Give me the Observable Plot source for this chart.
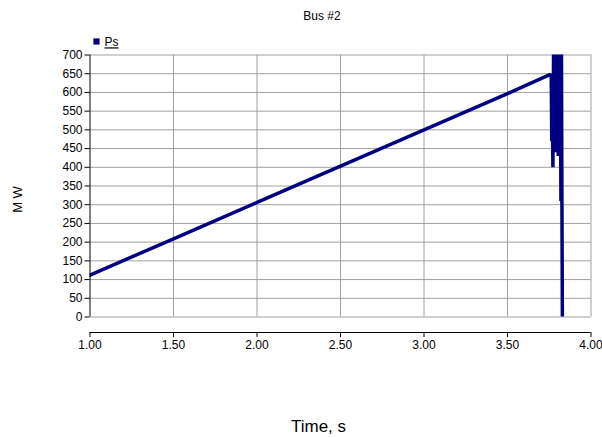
<!DOCTYPE html>
<html>
<head>
<meta charset="utf-8">
<script src="https://cdn.jsdelivr.net/npm/d3@7"></script>
<script src="https://cdn.jsdelivr.net/npm/@observablehq/plot@0.6"></script>
<style>
  html, body { margin: 0; padding: 0; background: #fff; }
  #chart svg { display: block; }
</style>
</head>
<body>
<div id="chart"></div>
<script>
// Time (s)
const times = [1.00, 1.50, 2.00, 2.50, 3.00, 3.50, 3.757,
  3.762, 3.765, 3.768, 3.772, 3.776, 3.780, 3.784, 3.788, 3.792, 3.796,
  3.800, 3.804, 3.808, 3.812, 3.816, 3.820, 3.823, 3.826, 3.829];
// Ps (MW)
const ps = [112, 209, 306, 403, 500, 597, 648,
  640, 470, 560, 400, 720, 470, 740, 440, 760, 450,
  740, 430, 760, 460, 720, 310, 720, 300, -50];
const xTicks = [1.0, 1.5, 2.0, 2.5, 3.0, 3.5, 4.0];
const yTicks = [0, 50, 100, 150, 200, 250, 300, 350, 400, 450, 500, 550, 600, 650, 700];
const title = "Bus #2";
const seriesName = "Ps";
const xLabel = "Time, s";
const yLabel = "M W";

const data = times.map((t, i) => ({t, v: ps[i]}));

const mL = 89.5, mR = 11.5, mT = 54.5, mB = 121.5;
const W = 602, H = 438;
const axisGap = 15.5;
const navy = "#000080";
const grid = "#a0a0a0";

const chart = Plot.plot({
  width: W,
  height: H,
  marginLeft: mL,
  marginRight: mR,
  marginTop: mT,
  marginBottom: mB,
  style: {fontFamily: "'Liberation Sans', Arial, sans-serif", fontSize: "12px", color: "#000", background: "#fff"},
  x: {domain: [1, 4], axis: null},
  y: {domain: [0, 700], axis: null},
  marks: [
    Plot.gridY(yTicks, {stroke: grid, strokeOpacity: 1}),
    Plot.gridX(xTicks.slice(1), {stroke: grid, strokeOpacity: 1}),
    Plot.line(data, {x: "t", y: "v", stroke: navy, strokeWidth: 3.5, clip: true, strokeLinejoin: "miter"}),
    Plot.ruleX([1], {stroke: "#000"}),
    Plot.axisY(yTicks, {tickSize: 5, tickPadding: 2.5, label: null, fontSize: 12, stroke: "#000"}),
    Plot.ruleY([0], {dy: axisGap, stroke: "#000"}),
    Plot.axisX(xTicks, {dy: axisGap, tickSize: 5, tickPadding: 3, label: null, fontSize: 12,
      tickFormat: d3.format(".2f"), stroke: "#000"}),
    Plot.text([title], {frameAnchor: "top-left", dx: 321.5 - mL, dy: 16 - mT,
      textAnchor: "middle", lineAnchor: "middle", fontSize: 12, fill: "#000"}),
    Plot.dot([0], {frameAnchor: "top-left", dx: 96 - mL, dy: 41 - mT, symbol: "square",
      r: 3.5, fill: navy, stroke: "none"}),
    Plot.text([seriesName], {frameAnchor: "top-left", dx: 104 - mL, dy: 42 - mT,
      textAnchor: "start", lineAnchor: "middle", fontSize: 12, fill: "#000", className: "legend-label"}),
    Plot.text([xLabel], {frameAnchor: "top-left", dx: 318 - mL, dy: 426 - mT,
      textAnchor: "middle", lineAnchor: "middle", fontSize: 17, fill: "#000"}),
    Plot.text([yLabel], {frameAnchor: "top-left", dx: 17.5 - mL, dy: 199 - mT,
      textAnchor: "middle", lineAnchor: "middle", rotate: -90, fontSize: 13, fill: "#000"})
  ]
});
d3.select(chart).selectAll("text").filter(function() { return this.textContent === seriesName; })
  .style("text-decoration", "underline");
document.getElementById("chart").appendChild(chart);
</script>
</body>
</html>
